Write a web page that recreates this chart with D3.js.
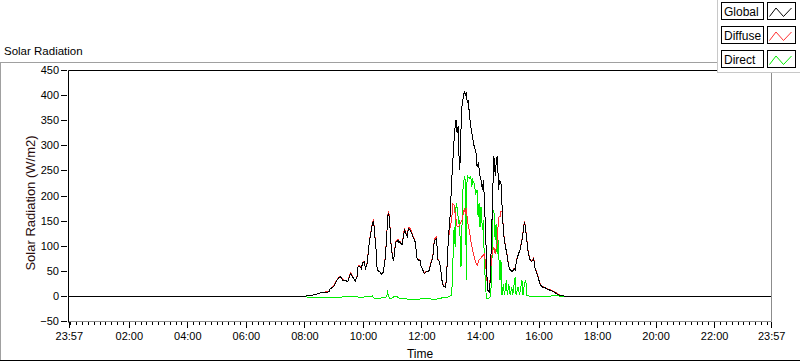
<!DOCTYPE html>
<html>
<head>
<meta charset="utf-8">
<script src="https://cdn.jsdelivr.net/npm/d3@7"></script>
<style>
body { margin: 0; background: #fff; }
text { font-family: "Liberation Sans", Arial, sans-serif; }
</style>
</head>
<body>
<svg id="chart" width="800" height="361"></svg>
<script>
// time is in minutes after midnight (-3 = 23:57 of the day before)
const globalData = [[-3,0],[471,0],[477,0],[498,3],[512,7],[529,9],[532,15],[539,20],[544,29],[549,37],[553,39],[558,32],[563,32],[568,29],[572,42],[574,45],[579,37],[583,30],[587,39],[589,59],[592,60],[596,55],[598,67],[602,69],[604,55],[607,62],[609,79],[611,99],[614,119],[616,132],[619,147],[621,149],[623,125],[626,92],[628,55],[630,51],[632,50],[638,44],[641,49],[645,79],[648,125],[650,162],[652,165],[654,145],[656,109],[660,75],[662,72],[665,99],[667,109],[671,111],[673,107],[675,109],[679,102],[682,119],[684,132],[687,125],[690,119],[692,135],[696,132],[699,125],[703,115],[706,109],[710,75],[713,72],[716,72],[718,60],[722,52],[725,45],[729,49],[732,49],[735,52],[739,69],[742,75],[744,99],[746,112],[749,115],[751,99],[753,72],[756,69],[759,49],[761,32],[764,20],[768,18],[770,32],[772,72],[774,112],[778,165],[781,232],[785,299],[788,339],[790,352],[792,325],[794,339],[795,305],[797,252],[798,265],[800,332],[802,379],[805,399],[807,409],[809,399],[811,407],[813,385],[815,392],[817,365],[820,339],[824,315],[827,299],[831,285],[833,259],[836,265],[838,245],[841,232],[844,212],[846,232],[848,192],[851,112],[853,45],[855,12],[858,9],[860,32],[862,99],[865,199],[867,279],[869,272],[870,239],[872,265],[874,279],[876,245],[877,212],[879,232],[882,225],[885,165],[887,130],[889,110],[894,85],[897,65],[899,55],[902,52],[905,49],[909,55],[911,52],[914,72],[918,85],[921,92],[925,112],[928,132],[930,149],[932,139],[935,112],[938,85],[942,72],[945,69],[949,75],[952,55],[956,45],[959,35],[962,25],[966,19],[973,17],[976,15],[983,12],[990,9],[997,5],[1003,2],[1010,1],[1017,0],[1437,0]]

const diffuseData = [[-3,0],[471,0],[477,0],[498,3],[512,7],[529,10],[532,16],[539,21],[544,30],[549,38],[553,40],[558,33],[563,32],[568,29],[572,43],[574,47],[579,38],[583,30],[587,40],[589,60],[592,62],[596,56],[598,68],[602,70],[604,56],[607,63],[609,80],[611,100],[614,121],[616,134],[619,149],[621,152],[623,127],[626,93],[628,56],[630,52],[632,50],[638,44],[641,50],[645,80],[648,127],[650,164],[652,168],[654,148],[656,111],[660,76],[662,73],[665,100],[667,111],[671,113],[673,108],[675,111],[679,103],[682,121],[684,135],[687,127],[690,121],[692,138],[696,135],[699,128],[703,117],[706,110],[710,76],[713,73],[716,73],[718,61],[722,53],[725,46],[729,50],[732,50],[735,53],[739,70],[742,76],[744,101],[746,114],[749,118],[751,100],[753,73],[756,70],[759,50],[761,33],[764,21],[768,19],[770,33],[772,73],[774,112],[778,140],[781,152],[783,185],[786,182],[788,165],[792,139],[795,139],[798,145],[802,152],[805,165],[807,175],[809,165],[811,175],[813,152],[817,132],[820,112],[824,92],[827,79],[831,65],[834,62],[836,72],[839,75],[843,79],[846,82],[848,85],[851,59],[853,35],[855,12],[858,9],[860,39],[863,79],[867,99],[869,92],[870,85],[874,105],[876,139],[878,159],[880,159],[882,170],[885,167],[887,132],[889,112],[894,86],[897,67],[899,56],[902,53],[905,50],[909,56],[911,53],[914,73],[918,87],[921,93],[925,113],[928,134],[930,151],[932,140],[935,113],[938,87],[942,73],[945,70],[949,77],[952,56],[956,46],[959,36],[962,26],[966,20],[973,18],[976,16],[983,13],[990,10],[997,6],[1003,3],[1010,1],[1017,0],[1437,0]]

const directData = [[-3,0],[470,0],[477,-1],[546,-3],[563,0],[583,0],[594,-2],[604,-1],[614,-1],[618,1],[624,-5],[638,-3],[648,-1],[649,12],[651,2],[655,-5],[662,-1],[667,1],[672,-3],[686,-5],[699,-6],[720,-5],[737,-5],[747,-6],[761,-3],[774,-1],[780,2],[781,2],[783,59],[786,139],[788,99],[790,185],[793,172],[795,145],[797,152],[800,59],[802,139],[804,212],[807,239],[809,232],[811,32],[812,225],[814,239],[817,235],[820,239],[822,219],[824,232],[827,225],[830,205],[833,212],[835,159],[837,185],[839,139],[841,179],[844,132],[846,152],[848,59],[850,32],[852,-5],[856,-5],[860,-1],[863,32],[865,175],[868,165],[870,112],[872,145],[874,85],[876,112],[878,72],[880,32],[882,72],[884,2],[887,25],[889,2],[893,32],[895,2],[898,25],[901,2],[904,19],[906,2],[911,39],[913,2],[917,19],[920,2],[925,32],[927,2],[930,25],[933,32],[935,2],[942,0],[956,-1],[976,0],[997,2],[1003,0],[1437,0]]

const seriesNames = ['Global', 'Diffuse', 'Direct']
const seriesColors = ['#000000', '#ff3030', '#00ee00']
const yTicks = [-50, 0, 50, 100, 150, 200, 250, 300, 350, 400, 450]
const timeTicks = [-3, 120, 240, 360, 480, 600, 720, 840, 960, 1080, 1200, 1320, 1437]

const base = new Date(2024, 0, 1)
const toDate = m => d3.timeMinute.offset(base, m)

const svg = d3.select('#chart')
const plotLeft = 68.5, plotRight = 771.5, plotTop = 70.5, plotBottom = 321.5

const x = d3.scaleTime()
    .domain([toDate(-3), toDate(1437)])
    .range([69.3, 771.7])
const y = d3.scaleLinear()
    .domain([-50, 450])
    .range([plotBottom, plotTop])

// panel frame
svg.append('line').attr('x1', 0).attr('x2', 718).attr('y1', 62.5).attr('y2', 62.5).attr('stroke', '#a0a0a0')
svg.append('line').attr('x1', 0.5).attr('x2', 0.5).attr('y1', 62).attr('y2', 361).attr('stroke', '#a0a0a0')
svg.append('line').attr('x1', 0).attr('x2', 800).attr('y1', 360.5).attr('y2', 360.5).attr('stroke', '#000')

svg.append('text').attr('x', 4).attr('y', 55).attr('font-size', 11.5).text('Solar Radiation')

// axes
const yAxis = d3.axisLeft(y).tickValues(yTicks).tickSize(6).tickPadding(2).offset(0)
const gy = svg.append('g').attr('transform', 'translate(67,0)').call(yAxis)
gy.select('.domain').remove()

const majorX = d3.axisBottom(x).tickValues(timeTicks.map(toDate))
    .tickFormat(d3.timeFormat('%H:%M')).tickSize(6).tickPadding(4).offset(0)
const minorX = d3.axisBottom(x).tickValues(d3.timeMinute.every(12).range(toDate(0), toDate(1437)))
    .tickFormat('').tickSize(3).offset(0)
const gxm = svg.append('g').attr('transform', `translate(0,${plotBottom + 0.5})`).call(minorX)
const gx = svg.append('g').attr('transform', `translate(0,${plotBottom + 0.5})`).call(majorX)
gx.select('.domain').remove()
gxm.select('.domain').remove()

svg.selectAll('.tick line').attr('shape-rendering', 'crispEdges').attr('stroke', '#000')
svg.selectAll('.tick text').attr('font-size', 11).attr('font-family', '"Liberation Sans", Arial, sans-serif').attr('fill', '#000')

svg.append('text')
    .attr('transform', 'translate(35,203) rotate(-90)')
    .attr('text-anchor', 'middle')
    .attr('font-size', 13)
    .attr('fill', '#2a0e0e')
    .text('Solar Radiation (W/m2)')
svg.append('text')
    .attr('x', 420).attr('y', 358)
    .attr('text-anchor', 'middle')
    .attr('font-size', 12)
    .text('Time')

// lines
const line = d3.line().x(d => x(toDate(d[0]))).y(d => y(d[1]))
const allSeries = [globalData, diffuseData, directData]
;[2, 1, 0].forEach(i => {
    svg.append('path')
        .attr('d', line(allSeries[i]))
        .attr('fill', 'none')
        .attr('stroke', seriesColors[i])
        .attr('stroke-width', 1)
        .attr('shape-rendering', 'crispEdges')
})

// plot frame
svg.append('line').attr('x1', plotLeft).attr('x2', plotLeft).attr('y1', plotTop).attr('y2', plotBottom + 1).attr('stroke', '#000')
svg.append('line').attr('x1', plotLeft).attr('x2', plotRight).attr('y1', plotTop).attr('y2', plotTop).attr('stroke', '#000')
svg.append('line').attr('x1', plotRight).attr('x2', plotRight).attr('y1', plotTop).attr('y2', plotBottom).attr('stroke', '#8c8c8c')
svg.append('line').attr('x1', plotLeft + 0.5).attr('x2', plotRight).attr('y1', plotBottom).attr('y2', plotBottom).attr('stroke', '#8c8c8c')

// legend
svg.append('rect').attr('x', 717.5).attr('y', -1).attr('width', 84).attr('height', 73.5)
    .attr('fill', '#fff').attr('stroke', '#c8c8c8')
const rows = svg.selectAll('.legend').data(seriesNames).join('g')
    .attr('class', 'legend')
    .attr('transform', (d, i) => `translate(0,${2 + i * 24})`)
rows.append('rect').attr('x', 721.5).attr('y', 0.5).attr('width', 42).attr('height', 17)
    .attr('fill', '#fff').attr('stroke', '#000')
rows.append('text').attr('x', 724).attr('y', 14).attr('font-size', 12).text(d => d)
rows.append('rect').attr('x', 767.5).attr('y', 0.5).attr('width', 28).attr('height', 17)
    .attr('fill', '#fff').attr('stroke', '#000')
rows.append('polyline')
    .attr('points', '769.5,14.5 776,6 783.5,14.5 791.5,6')
    .attr('fill', 'none')
    .attr('stroke', (d, i) => seriesColors[i])
</script>
</body>
</html>
